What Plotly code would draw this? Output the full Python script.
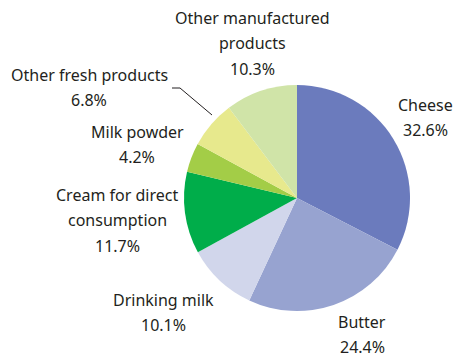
import plotly.graph_objects as go

W, H = 457, 358

categories = ["Cheese", "Butter", "Drinking milk", "Cream for direct consumption",
              "Milk powder", "Other fresh products", "Other manufactured products"]
values = [32.6, 24.4, 10.1, 11.7, 4.2, 6.8, 10.3]
colors = ["#6b7bbd", "#97a3d0", "#d1d6eb", "#00ad4a", "#a3cd47", "#e7e98d", "#d0e4a8"]

# label line breaks and pixel anchor (center x, first line y) - layout only
label_lines = {
    "Cheese": ["Cheese"],
    "Butter": ["Butter"],
    "Drinking milk": ["Drinking milk"],
    "Cream for direct consumption": ["Cream for direct", "consumption"],
    "Milk powder": ["Milk powder"],
    "Other fresh products": ["Other fresh products"],
    "Other manufactured products": ["Other manufactured", "products"],
}
label_pos = {
    "Cheese": (425, 105),
    "Butter": (362, 322),
    "Drinking milk": (163, 300),
    "Cream for direct consumption": (117, 195),
    "Milk powder": (137, 132),
    "Other fresh products": (89, 75),
    "Other manufactured products": (253, 18),
}
LINE = 25.3


def px(x):
    return x / W


def py(y):
    return 1 - y / H


fig = go.Figure(go.Pie(
    labels=categories, values=values, sort=False, direction="clockwise", rotation=0,
    marker=dict(colors=colors, line=dict(width=0)),
    textinfo="none", hoverinfo="label+percent", showlegend=False,
    domain=dict(x=[px(184), px(410)], y=[py(311), py(85)]),
))

ann = []
for c, v in zip(categories, values):
    x, y = label_pos[c]
    lines = label_lines[c] + [f"{v:.1f}%"]
    for i, t in enumerate(lines):
        ann.append(dict(text=t, x=px(x), y=py(y + i * LINE), xref="paper", yref="paper",
                        showarrow=False, xanchor="center", yanchor="middle",
                        font=dict(family="Noto Sans", size=16, color="#231f20")))

shapes = [dict(type="path", xref="paper", yref="paper",
               path=f"M {px(172)},{py(88)} L {px(180)},{py(88)} L {px(212)},{py(115)}",
               line=dict(color="#231f20", width=1))]

fig.update_layout(width=W, height=H, margin=dict(l=0, r=0, t=0, b=0),
                  paper_bgcolor="white", plot_bgcolor="white",
                  annotations=ann, shapes=shapes)
fig.write_html("out.html", config={"displayModeBar": False},
               post_script="document.body.style.margin='0';document.body.style.overflow='hidden';")
